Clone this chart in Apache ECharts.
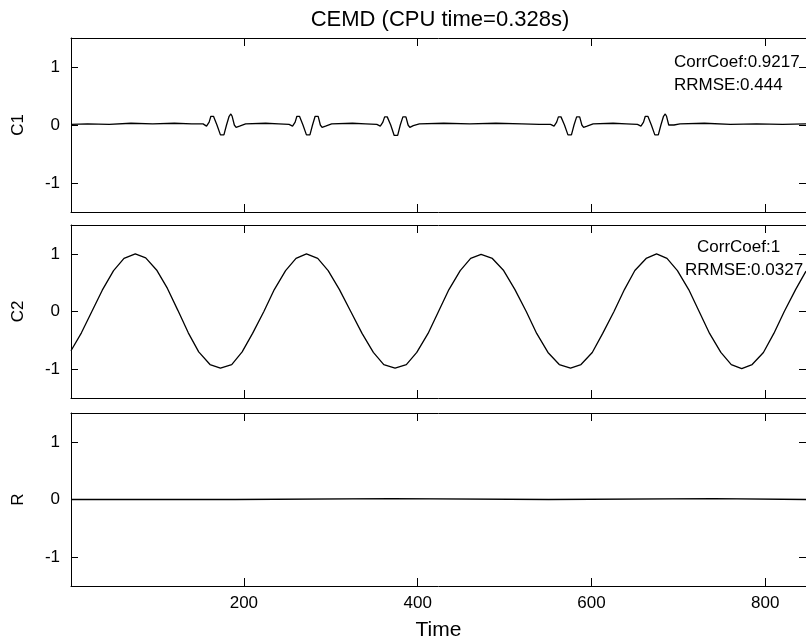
<!DOCTYPE html>
<html><head><meta charset="utf-8">
<script src="https://cdn.jsdelivr.net/npm/echarts@6/dist/echarts.min.js"></script>
<style>html,body{margin:0;padding:0;background:#fff}#c{width:806px;height:643px}</style>
</head><body><div id="c"></div>
<script>
// ---- data ----
const titleText = 'CEMD (CPU time=0.328s)';
const xLabel = 'Time';
const panelNames = ['C1', 'C2', 'R'];
const xTicks = [200, 400, 600, 800];
const yTicks = [-1, 0, 1];
const xMin = 1, xMax = 847;
const yMin = -1.5, yMax = 1.5;

const tC1 = [1, 20, 45, 70, 95, 120, 140,
  153, 157, 160, 162, 163.5, 165, 169, 173, 175, 177, 180, 183, 185, 186.5, 189, 191, 195, 202,
  225, 240,
  252, 256, 259, 261, 262.5, 264, 268, 272, 274, 276, 279, 282, 284, 285.5, 288, 290, 294, 301,
  325, 340,
  353, 357, 360, 362, 363.5, 365, 369, 373, 375, 377, 380, 383, 385, 386.5, 389, 391, 395, 402,
  430, 460, 490, 520, 540,
  553, 557, 560, 562, 563.5, 565, 569, 573, 575, 577, 580, 583, 585, 586.5, 589, 591, 595, 602,
  625, 640,
  653, 657, 660, 662, 663.5, 665, 669, 673, 675, 677, 680, 683, 685, 686.5, 689, 691, 695, 702,
  730, 760, 790, 820, 847];
const vC1 = [0.01, 0.02, 0.01, 0.03, 0.02, 0.03, 0.02,
  0.02, -0.02, 0.05, 0.15, 0.18, 0.15, 0.0, -0.17, -0.20, -0.17, 0.0, 0.15, 0.19, 0.15, 0.0, -0.04, -0.02, 0.02,
  0.03, 0.02,
  0.01, -0.02, 0.05, 0.15, 0.18, 0.15, 0.0, -0.17, -0.20, -0.17, 0.0, 0.15, 0.18, 0.15, 0.0, -0.04, -0.02, 0.02,
  0.03, 0.02,
  0.01, -0.02, 0.05, 0.14, 0.17, 0.14, 0.0, -0.18, -0.21, -0.18, 0.0, 0.14, 0.17, 0.14, 0.0, -0.04, -0.01, 0.02,
  0.03, 0.02, 0.03, 0.02, 0.01,
  0.01, -0.02, 0.05, 0.14, 0.17, 0.14, 0.0, -0.17, -0.20, -0.17, 0.0, 0.14, 0.17, 0.14, 0.0, -0.04, -0.02, 0.02,
  0.03, 0.02,
  0.01, -0.02, 0.05, 0.15, 0.18, 0.15, 0.0, -0.17, -0.20, -0.17, 0.0, 0.15, 0.19, 0.15, 0.0, -0.03, 0.0, 0.02,
  0.03, 0.01, 0.02, 0.01, 0.02];

const tC2 = [1, 13, 25, 37, 50, 62, 75, 87, 100, 112, 124, 136, 148, 161, 173, 186, 198, 210, 223, 235, 248, 260, 272, 285, 297, 310, 323, 336, 349, 361, 374, 387, 399, 412, 424, 436, 449, 461, 473, 486, 499, 512, 525, 537, 550, 563, 576, 588, 601, 613, 626, 638, 650, 663, 675, 687, 699, 712, 724, 736, 749, 761, 773, 785, 798, 810, 822, 835, 847];
const vC2 = [-0.68, -0.37, 0.0, 0.37, 0.71, 0.92, 1.0, 0.93, 0.71, 0.40, 0.02, -0.37, -0.70, -0.92, -0.98, -0.92, -0.70, -0.38, 0.0, 0.38, 0.71, 0.92, 1.0, 0.92, 0.71, 0.38, 0.0, -0.38, -0.71, -0.92, -0.98, -0.92, -0.71, -0.38, 0.0, 0.38, 0.71, 0.92, 0.99, 0.92, 0.71, 0.38, 0.0, -0.38, -0.71, -0.92, -0.98, -0.92, -0.71, -0.38, 0.0, 0.38, 0.71, 0.92, 1.0, 0.92, 0.71, 0.38, 0.0, -0.38, -0.71, -0.92, -0.99, -0.92, -0.71, -0.38, 0.0, 0.38, 0.70];

const tR = [1, 190, 191, 370, 371, 551, 552, 741, 742, 847];
const vR = [0.0, 0.0, 0.015, 0.015, 0.0, 0.0, 0.015, 0.015, 0.0, 0.0];

const notes = [['CorrCoef:0.9217', 'RRMSE:0.444'], ['CorrCoef:1', 'RRMSE:0.0327']];

// ---- layout / style ----
const FF = 'Liberation Sans, Arial, Helvetica, sans-serif';
const gridBoxes = [{ top: 38, height: 174 }, { top: 225, height: 173 }, { top: 413, height: 173 }];
const GL = 71, GW = 736;

function pairs(t, v) { return t.map((x, i) => [x, v[i]]); }
const seriesData = [pairs(tC1, vC1), pairs(tC2, vC2), pairs(tR, vR)];

const grids = gridBoxes.map(g => ({ left: GL, width: GW, top: g.top, height: g.height, containLabel: false }));
const xAxes = [], yAxes = [], series = [];
for (let i = 0; i < 3; i++) {
  ['bottom', 'top'].forEach(pos => {
    const main = (i === 2 && pos === 'bottom');
    xAxes.push({
      type: 'value', gridIndex: i, position: pos, min: xMin, max: xMax,
      axisLine: { show: true, onZero: false, lineStyle: { color: '#000', width: 1 } },
      axisTick: { show: true, inside: true, length: 8, customValues: xTicks, lineStyle: { color: '#000', width: 1 } },
      axisLabel: { show: main, customValues: xTicks, margin: 9, color: '#000', fontSize: 17, fontFamily: FF },
      splitLine: { show: false },
      name: main ? xLabel : '', nameLocation: 'middle', nameGap: 34,
      nameTextStyle: { color: '#000', fontSize: 21, fontFamily: FF }
    });
  });
  ['left', 'right'].forEach(pos => {
    const main = pos === 'left';
    yAxes.push({
      type: 'value', gridIndex: i, position: pos, min: yMin, max: yMax,
      axisLine: { show: true, onZero: false, lineStyle: { color: '#000', width: 1 } },
      axisTick: { show: true, inside: true, length: 7, customValues: yTicks, lineStyle: { color: '#000', width: 1 } },
      axisLabel: { show: main, customValues: yTicks, margin: 11, color: '#000', fontSize: 17, fontFamily: FF },
      splitLine: { show: false },
      name: main ? panelNames[i] : '', nameLocation: 'middle', nameGap: 44,
      nameTextStyle: { color: '#000', fontSize: 17, fontFamily: FF }
    });
  });
  series.push({
    type: 'line', xAxisIndex: 2 * i, yAxisIndex: 2 * i, data: seriesData[i],
    showSymbol: false, symbol: 'none', smooth: false,
    lineStyle: { color: '#000', width: 1.3 }, silent: true
  });
}

const notePos = [[[674, 62], [674, 85]], [[697, 247], [685, 270]]];
const graphic = [];
notes.forEach((pair, p) => pair.forEach((txt, k) => {
  graphic.push({
    type: 'text', x: notePos[p][k][0], y: notePos[p][k][1], z: 100,
    style: { text: txt, fill: '#000', font: '17px ' + FF, align: 'left', verticalAlign: 'middle' }
  });
}));

const chart = echarts.init(document.getElementById('c'), null, { renderer: 'canvas' });
chart.setOption({
  animation: false,
  backgroundColor: '#fff',
  title: { text: titleText, left: GL + GW / 2 - 4, top: 4, textAlign: 'center',
    textStyle: { color: '#000', fontSize: 22, fontWeight: 'normal', fontFamily: FF } },
  grid: grids, xAxis: xAxes, yAxis: yAxes, series: series, graphic: graphic
});
</script></body></html>
